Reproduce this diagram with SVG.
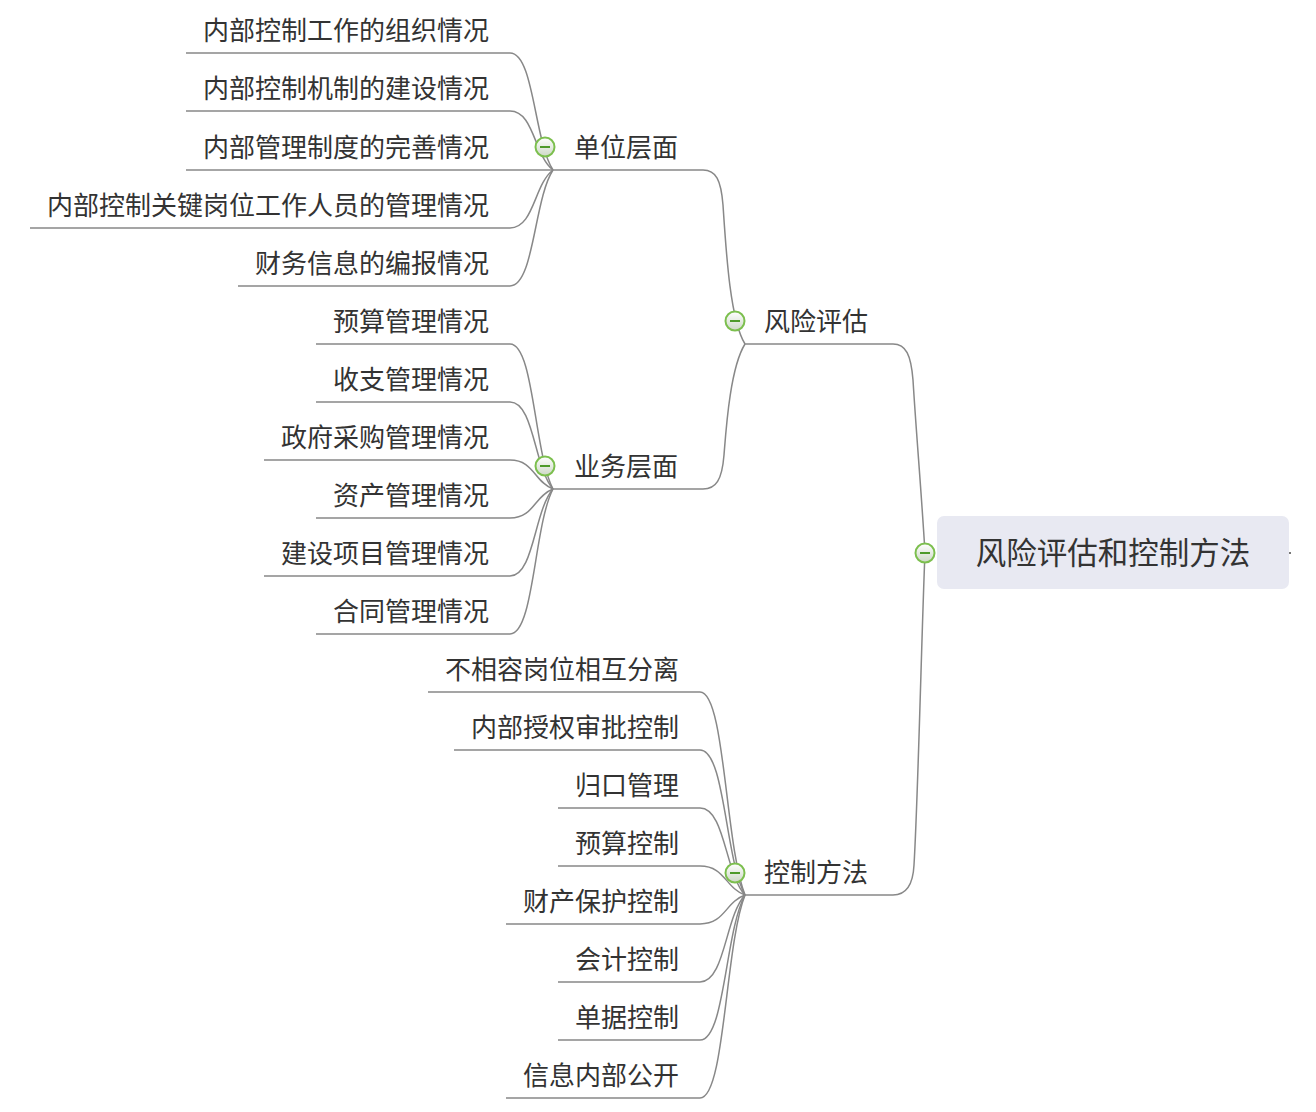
<svg xmlns="http://www.w3.org/2000/svg" width="1316" height="1112" viewBox="0 0 1316 1112">
<style>
.t{font-family:"Noto Sans CJK SC","Microsoft YaHei","Noto Sans",sans-serif;font-size:26px;fill:#333}
.l{text-anchor:end}
.root{font-size:30.5px;text-anchor:middle}
.c{fill:none;stroke:#888;stroke-width:1.5}
.ic circle{fill:url(#g);stroke:#7cbf4e;stroke-width:2}
.ic line{stroke:#4e9a2a;stroke-width:2}
</style>
<defs>
<linearGradient id="g" x1="0" y1="0" x2="0" y2="1"><stop offset="0" stop-color="#ffffff"/><stop offset="1" stop-color="#cdd8c6"/></linearGradient>
<g id="icon" class="ic"><circle r="9.5"/><line x1="-5" y1="0" x2="5" y2="0"/></g>
</defs>
<rect width="1316" height="1112" fill="#fff"/>
<g id="connectors">
<path class="c" d="M925 553 C922 500,916 430,913 380 C911 355,906 344,893 344 H745"/>
<path class="c" d="M925 553 C922 620,918 800,914 865 C913 885,906 895,893 895 H745"/>
<path class="c" d="M745 344 C730 320,726 250,723 205 C721 180,716 170,703 170 H553"/>
<path class="c" d="M745 344 C730 368,726 430,724 455 C722 480,716 489,703 489 H553"/>
<path class="c" d="M186 53 H510 C534 53,534 140.75,553 170"/>
<path class="c" d="M186 111 H510 C534 111,534 155.25,553 170"/>
<path class="c" d="M186 170 H553"/>
<path class="c" d="M30 228 H510 C534 228,534 184.5,553 170"/>
<path class="c" d="M238 286 H510 C534 286,534 199,553 170"/>
<path class="c" d="M316 344 H510 C534 344,534 452.75,553 489"/>
<path class="c" d="M316 402 H510 C534 402,534 467.25,553 489"/>
<path class="c" d="M264 460 H510 C534 460,534 481.75,553 489"/>
<path class="c" d="M316 518 H510 C534 518,534 496.25,553 489"/>
<path class="c" d="M264 576 H510 C534 576,534 510.75,553 489"/>
<path class="c" d="M316 634 H510 C534 634,534 525.25,553 489"/>
<path class="c" d="M428 692 H700 C725 692,725 844.25,745 895"/>
<path class="c" d="M454 750 H700 C725 750,725 858.75,745 895"/>
<path class="c" d="M558 808 H700 C725 808,725 873.25,745 895"/>
<path class="c" d="M558 866 H700 C725 866,725 887.75,745 895"/>
<path class="c" d="M506 924 H700 C725 924,725 902.25,745 895"/>
<path class="c" d="M558 982 H700 C725 982,725 916.75,745 895"/>
<path class="c" d="M558 1040 H700 C725 1040,725 931.25,745 895"/>
<path class="c" d="M506 1098 H700 C725 1098,725 945.75,745 895"/>
<line x1="1289" y1="553" x2="1291" y2="553" stroke="#777" stroke-width="2"/>
</g>
<g id="root">
<rect x="937" y="516" width="352" height="73" rx="7" fill="#e8e9f2"/>
<text class="t root" x="1113" y="564">风险评估和控制方法</text>
<use href="#icon" x="925" y="553"/>
</g>
<g id="n-fxpg"><text class="t" x="764" y="331">风险评估</text><use href="#icon" x="735" y="321"/></g>
<g id="n-kzff"><text class="t" x="764" y="882">控制方法</text><use href="#icon" x="735" y="873"/></g>
<g id="n-dwcm"><text class="t" x="574" y="157">单位层面</text><use href="#icon" x="545" y="147"/></g>
<g id="n-ywcm"><text class="t" x="574" y="476">业务层面</text><use href="#icon" x="545" y="466"/></g>
<g id="leaf1"><text class="t l" x="489" y="40">内部控制工作的组织情况</text></g>
<g id="leaf2"><text class="t l" x="489" y="98">内部控制机制的建设情况</text></g>
<g id="leaf3"><text class="t l" x="489" y="157">内部管理制度的完善情况</text></g>
<g id="leaf4"><text class="t l" x="489" y="215">内部控制关键岗位工作人员的管理情况</text></g>
<g id="leaf5"><text class="t l" x="489" y="273">财务信息的编报情况</text></g>
<g id="leaf6"><text class="t l" x="489" y="331">预算管理情况</text></g>
<g id="leaf7"><text class="t l" x="489" y="389">收支管理情况</text></g>
<g id="leaf8"><text class="t l" x="489" y="447">政府采购管理情况</text></g>
<g id="leaf9"><text class="t l" x="489" y="505">资产管理情况</text></g>
<g id="leaf10"><text class="t l" x="489" y="563">建设项目管理情况</text></g>
<g id="leaf11"><text class="t l" x="489" y="621">合同管理情况</text></g>
<g id="leaf12"><text class="t l" x="679" y="679">不相容岗位相互分离</text></g>
<g id="leaf13"><text class="t l" x="679" y="737">内部授权审批控制</text></g>
<g id="leaf14"><text class="t l" x="679" y="795">归口管理</text></g>
<g id="leaf15"><text class="t l" x="679" y="853">预算控制</text></g>
<g id="leaf16"><text class="t l" x="679" y="911">财产保护控制</text></g>
<g id="leaf17"><text class="t l" x="679" y="969">会计控制</text></g>
<g id="leaf18"><text class="t l" x="679" y="1027">单据控制</text></g>
<g id="leaf19"><text class="t l" x="679" y="1085">信息内部公开</text></g>
</svg>
